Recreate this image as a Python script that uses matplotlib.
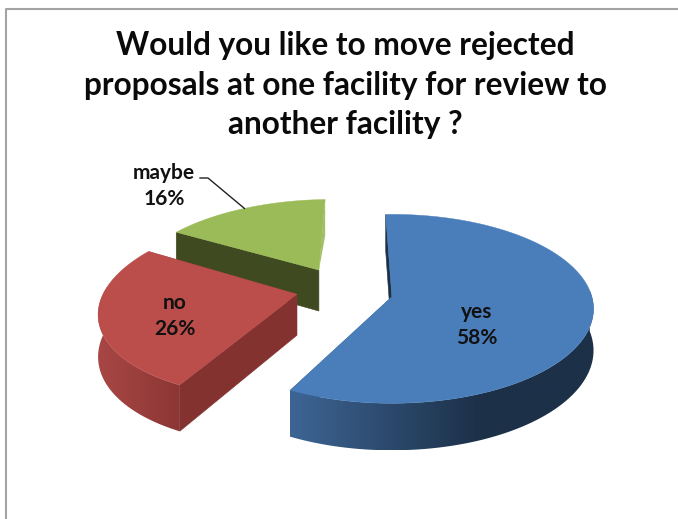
import numpy as np
import matplotlib
matplotlib.use("Agg")
import matplotlib.pyplot as plt
from matplotlib.patches import Polygon
from matplotlib.colors import to_rgb

categories = ["yes", "no", "maybe"]
shares = [58, 26, 16]
title = "Would you like to move rejected\nproposals at one facility for review to\nanother facility ?"

top_colors = ["#4a7ebb", "#bb4e4b", "#9bbb59"]
cut_colors = ["#1c3048", "#833230", "#3f4a20"]
sliver_colors = ["#1c3048", "#833230", "#a3bf66"]
wall_left = ["#3d6594", "#a84745", "#5a7030"]
wall_right = ["#1c3048", "#8a3634", "#3f4a20"]
wall_span = [190, 85, 100]

# perspective fudge per slice
scale_x = [1.0, 0.97, 0.92]
scale_y = [1.0, 0.96, 1.0]
nudge_y = [0, -4, -3]

START = 92.0      # degrees, slices run clockwise
EXPLODE = 0.245
CX, CY = 344, 292
AX, BY = 200, 90
K = 0.128
DEPTH = 41
VX_OFFSET = 0.24  # world x that has no lean
LEAN = -0.2


def slice_geometry(i, start, sweep):
    mid = np.radians(start - sweep / 2)
    xc = EXPLODE * np.cos(mid)
    yc = EXPLODE * np.sin(mid)
    apex = (CX + AX * xc, CY - BY * yc + nudge_y[i])
    lean = LEAN * (xc - VX_OFFSET)
    squash = 1 / (1 + 0.3 * yc) ** 2

    def project(theta):
        dx, dy = np.cos(theta), np.sin(theta)
        s = 1 / (1 + K * dy)
        x = apex[0] + AX * scale_x[i] * (dx + lean * dy) * s
        y = apex[1] - BY * scale_y[i] * squash * dy * s
        return x, y, DEPTH * s

    return apex, project


def draw_slice(ax, i, start, sweep, z):
    apex, project = slice_geometry(i, start, sweep)
    theta = np.radians(np.linspace(start, start - sweep, 240))
    x, y, d = project(theta)

    # cut faces: the full face on the first edge, a thin sliver on the last one
    ax.add_patch(Polygon([apex, (x[-1], y[-1]), (x[-1], y[-1] + d[-1])],
                         fc=sliver_colors[i], ec="none", zorder=z))
    ax.add_patch(Polygon([apex, (x[0], y[0]), (x[0], y[0] + d[0]), (apex[0], apex[1] + DEPTH)],
                         fc=cut_colors[i], ec=cut_colors[i], lw=0.4, zorder=z))

    # outer wall, only the part that faces the viewer
    front = np.sin(theta) <= 0.08
    if front.sum() > 1:
        xf, yf, df = x[front], y[front], d[front]
        wall = Polygon(np.vstack([np.column_stack([xf, yf]), np.column_stack([xf, yf + df])[::-1]]),
                       fc="none", ec="none", zorder=z + 1)
        ax.add_patch(wall)
        c0, c1 = np.array(to_rgb(wall_left[i])), np.array(to_rgb(wall_right[i]))
        t = np.clip(np.linspace(0, (xf.max() - xf.min()) / wall_span[i], 256), 0, 1)[None, :, None]
        im = ax.imshow(c0 + (c1 - c0) * t, extent=(xf.min(), xf.max(), (yf + df).max(), yf.min()),
                       aspect="auto", interpolation="bilinear", zorder=z + 1)
        im.set_clip_path(wall)

    ax.add_patch(Polygon(np.vstack([[apex], np.column_stack([x, y])]), fc=top_colors[i],
                         ec=top_colors[i], lw=0.3, zorder=z + 2))


plt.rcParams["font.family"] = ["Lato", "DejaVu Sans"]
fig = plt.figure(figsize=(6.78, 5.19), dpi=100)
ax = fig.add_axes([0, 0, 1, 1])

# screenshot frame
ax.plot([5.5, 5.5, 678], [519, 8.5, 8.5], color="#a3a3a3", lw=1.5, solid_capstyle="butt")

# slice start angles, green is behind red, red behind blue
angles = 3.6 * np.array(shares)
starts = START - np.concatenate([[0], np.cumsum(angles)[:-1]])
for i in (2, 1, 0):
    draw_slice(ax, i, starts[i], angles[i], 10 * (3 - i))

ax.set_xlim(0, 678)
ax.set_ylim(519, 0)
ax.axis("off")

ax.text(345, 85, title, ha="center", va="center", fontsize=22.8, fontweight="bold",
        color="#0a0a0a", linespacing=1.45, zorder=50)

ax.text(477, 325, f"{categories[0]}\n{shares[0]}%", ha="center", va="center", fontsize=15,
        fontweight="bold", color="#111111", linespacing=1.38, zorder=50)
ax.text(175, 316, f"{categories[1]}\n{shares[1]}%", ha="center", va="center", fontsize=15,
        fontweight="bold", color="#111111", linespacing=1.38, zorder=50)
ax.text(164, 186, f"{categories[2]}\n{shares[2]}%", ha="center", va="center", fontsize=15,
        fontweight="bold", color="#111111", linespacing=1.38, zorder=50)

# leader line of the maybe label
_, green_project = slice_geometry(2, starts[2], angles[2])
gx, gy, _ = green_project(np.radians(starts[2] - angles[2] * 0.5))
ax.plot([200, 208, gx], [178, 178, gy], color="#222222", lw=1, zorder=50)

fig.savefig("out.png", dpi=100)
